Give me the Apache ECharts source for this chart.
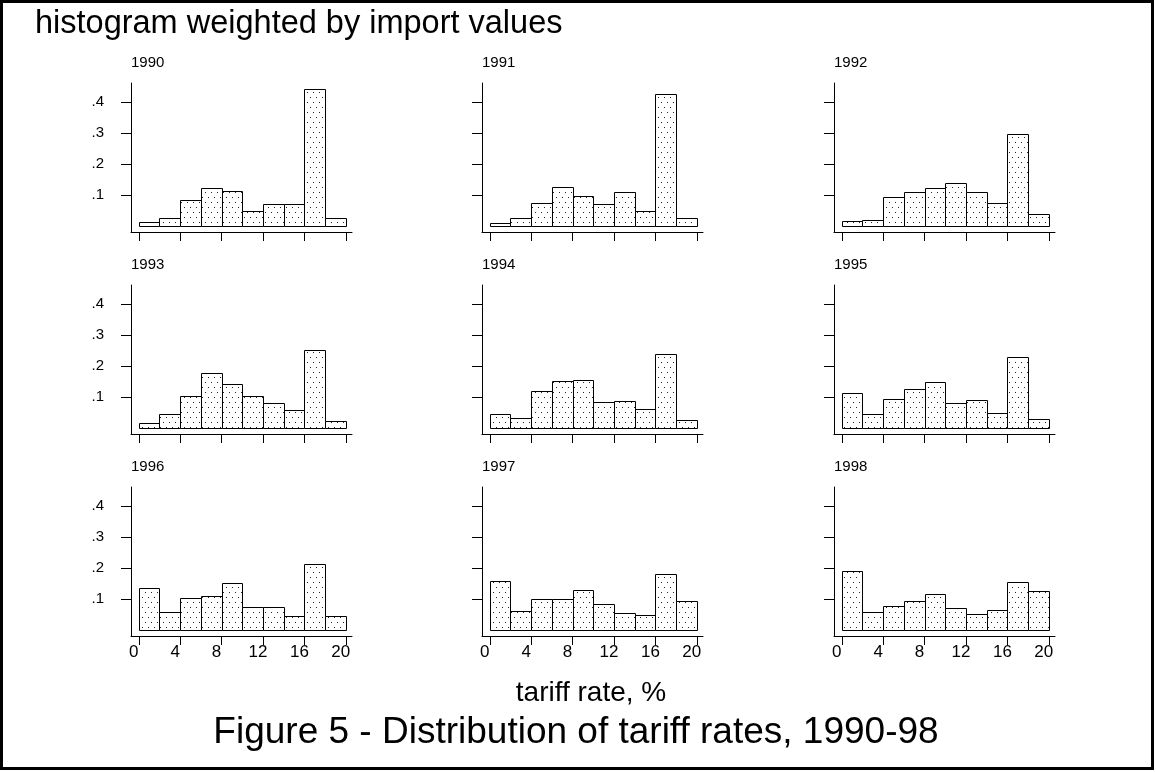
<!DOCTYPE html>
<html>
<head>
<meta charset="utf-8">
<title>Distribution of tariff rates, 1990-98</title>
<script src="https://cdn.jsdelivr.net/npm/echarts@6/dist/echarts.min.js"></script>
<style>
  html, body { margin: 0; padding: 0; background: #fff; }
  #main { width: 1156px; height: 772px; }
</style>
</head>
<body>
<div id="main"></div>
<script>
// histogram bins: tariff rate, % (2-point bins from 0 to 20)
const binEdges = [0, 2, 4, 6, 8, 10, 12, 14, 16, 18, 20]
const years = ['1990', '1991', '1992', '1993', '1994', '1995', '1996', '1997', '1998']

// share of import value in each bin
const share1990 = [0.011, 0.024, 0.084, 0.123, 0.114, 0.049, 0.070, 0.071, 0.442, 0.026]
const share1991 = [0.008, 0.026, 0.075, 0.125, 0.097, 0.071, 0.110, 0.048, 0.426, 0.024]
const share1992 = [0.014, 0.019, 0.094, 0.110, 0.123, 0.139, 0.110, 0.075, 0.296, 0.037]
const share1993 = [0.017, 0.046, 0.104, 0.178, 0.141, 0.104, 0.080, 0.058, 0.251, 0.023]
const share1994 = [0.045, 0.033, 0.118, 0.151, 0.156, 0.085, 0.087, 0.060, 0.238, 0.025]
const share1995 = [0.112, 0.046, 0.092, 0.127, 0.147, 0.081, 0.089, 0.047, 0.228, 0.028]
const share1996 = [0.134, 0.057, 0.103, 0.110, 0.152, 0.074, 0.074, 0.045, 0.214, 0.045]
const share1997 = [0.157, 0.060, 0.099, 0.099, 0.129, 0.083, 0.054, 0.047, 0.181, 0.094]
const share1998 = [0.191, 0.057, 0.076, 0.092, 0.115, 0.071, 0.052, 0.065, 0.156, 0.125]

const xTicks = [0, 4, 8, 12, 16, 20]
const yTicks = [0.1, 0.2, 0.3, 0.4]

const shares = [share1990, share1991, share1992, share1993, share1994,
  share1995, share1996, share1997, share1998]

const chartDom = document.getElementById('main')
const myChart = echarts.init(chartDom)

// dotted fill like the printed histogram
const dots = document.createElement('canvas')
dots.width = 6
dots.height = 10
const dctx = dots.getContext('2d')
dctx.fillStyle = '#fff'
dctx.fillRect(0, 0, 6, 10)
dctx.fillStyle = '#222'
dctx.fillRect(1, 2, 1, 1)
dctx.fillRect(4, 7, 1, 1)
const dotPattern = { image: dots, repeat: 'repeat' }

const plainFont = "'Liberation Sans', Arial, sans-serif"

const colLeft = [131, 482, 834]
const rowTop = [83, 285, 487]
const gridW = 221
const gridH = 149

const grids = []
const xAxes = []
const yAxes = []
const series = []
const titles = []

years.forEach((year, k) => {
  const row = Math.floor(k / 3)
  const col = k % 3
  grids.push({ left: colLeft[col], top: rowTop[row], width: gridW, height: gridH, containLabel: false })
  xAxes.push({
    gridIndex: k,
    type: 'value',
    min: -0.75,
    max: 20.6,
    axisLine: { onZero: false, lineStyle: { color: '#000', width: 1 } },
    axisTick: { show: true, length: 9, customValues: xTicks, lineStyle: { color: '#000' } },
    axisLabel: {
      show: row === 2,
      customValues: xTicks,
      margin: 8,
      color: '#000',
      fontSize: 17,
      fontFamily: plainFont,
      padding: [0, 10, 0, 0]
    },
    splitLine: { show: false }
  })
  yAxes.push({
    gridIndex: k,
    type: 'value',
    min: -0.02,
    max: 0.462,
    axisLine: { onZero: false, lineStyle: { color: '#000', width: 1 } },
    axisTick: { show: true, length: 10, customValues: yTicks, lineStyle: { color: '#000' } },
    axisLabel: {
      show: col === 0,
      customValues: yTicks,
      margin: 27,
      color: '#000',
      fontSize: 15,
      fontFamily: plainFont,
      formatter: v => String(Math.round(v * 10) / 10).replace('0.', '.')
    },
    splitLine: { show: false }
  })
  series.push({
    type: 'custom',
    xAxisIndex: k,
    yAxisIndex: k,
    encode: { x: [0, 1], y: 2 },
    data: shares[k].map((v, i) => [binEdges[i], binEdges[i + 1], v]),
    renderItem (params, api) {
      const p0 = api.coord([api.value(0), 0])
      const p1 = api.coord([api.value(1), api.value(2)])
      const x0 = Math.round(p0[0]) + 0.5
      const x1 = Math.round(p1[0]) + 0.5
      const yb = Math.round(p0[1]) + 0.5
      const yt = Math.round(p1[1]) + 0.5
      return {
        type: 'rect',
        shape: { x: x0, y: yt, width: x1 - x0, height: yb - yt },
        style: { fill: dotPattern, stroke: '#000', lineWidth: 1 }
      }
    },
    silent: true
  })
  titles.push({
    text: year,
    left: colLeft[col],
    top: 55 + row * 202,
    padding: 0,
    textStyle: { fontSize: 15, fontWeight: 'normal', color: '#000', fontFamily: plainFont }
  })
})

titles.push({
  text: 'histogram weighted by import values',
  left: 35,
  top: 8,
  padding: 0,
  textStyle: { fontSize: 32.5, fontWeight: 'normal', color: '#000', fontFamily: plainFont }
})
titles.push({
  text: 'tariff rate, %',
  left: 591,
  textAlign: 'center',
  top: 679,
  padding: 0,
  textStyle: { fontSize: 28, fontWeight: 'normal', color: '#000', fontFamily: plainFont }
})
titles.push({
  text: 'Figure 5 - Distribution of tariff rates, 1990-98',
  left: 576,
  textAlign: 'center',
  top: 714,
  padding: 0,
  textStyle: { fontSize: 37, fontWeight: 'normal', color: '#000', fontFamily: plainFont }
})

const option = {
  animation: false,
  backgroundColor: '#fff',
  title: titles,
  grid: grids,
  xAxis: xAxes,
  yAxis: yAxes,
  series: series,
  graphic: [
    {
      type: 'rect',
      shape: { x: 1.5, y: 1.5, width: 1151, height: 767 },
      style: { fill: 'none', stroke: '#000', lineWidth: 3 },
      silent: true
    }
  ]
}

myChart.setOption(option)
</script>
</body>
</html>
